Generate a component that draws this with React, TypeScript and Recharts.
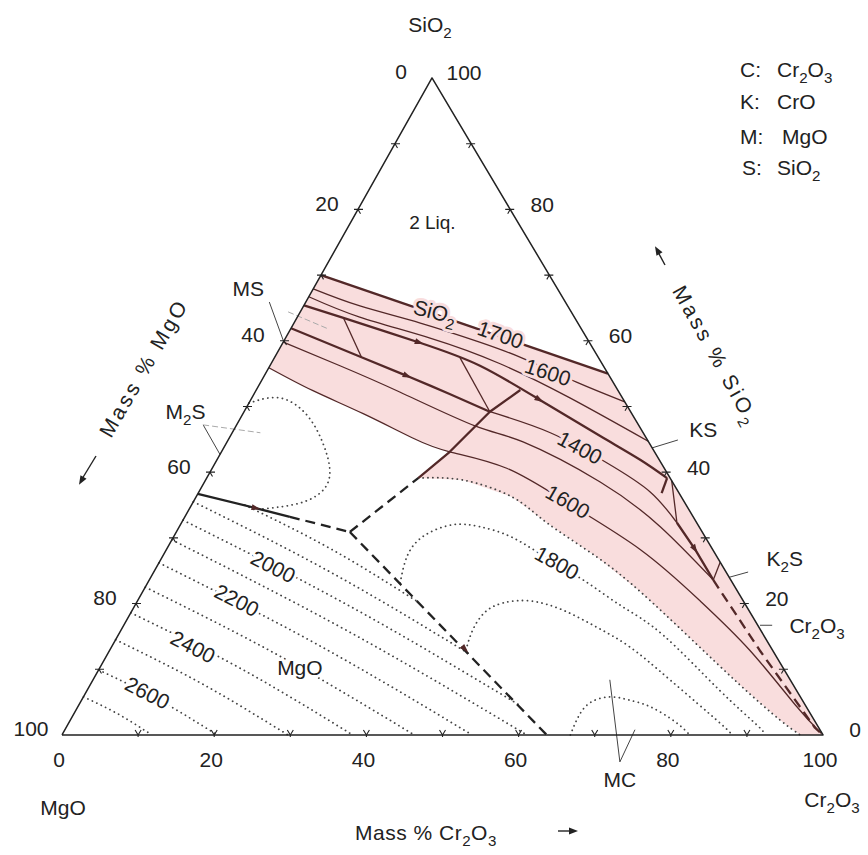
import React from 'react';
import { ScatterChart, Scatter, XAxis, YAxis } from 'recharts';

// a composition is [mass % Cr2O3, mass % SiO2]; MgO is the rest
type Comp = [number, number];

const W = 868;
const H = 855;
const FONT = '"Liberation Sans", Arial, Helvetica, sans-serif';
const INK = '#222';
const BROWN = '#532828';
const PINK = '#f9dddd';

// ternary -> cartesian, the SiO2 apex sits at 48.6 % of the base
const APEX = 0.4862;
const toXY = ([c, s]: Comp) => ({ x: c + s * APEX, y: s });

// ---------------- data ----------------
const triangle: Comp[] = [[0, 0], [100, 0], [0, 100], [0, 0]];

// two-liquid boundary (1700)
const gapLine: Comp[] = [[0, 70], [45, 55]];

// lower edge of the shaded liquid field, dotted
const pinkEdge: Comp[] = [
  [27.8, 39.1], [33.8, 38.8], [41.6, 36.2], [48, 32.3], [57.1, 27.1],
  [65.4, 21.8], [75.3, 14.8], [85.4, 7.6], [93.2, 2.3], [97, 0],
];

// isotherms in the liquid field
const iso1600a: Comp[] = [[0, 67.9], [7.4, 65.3], [16.6, 62.7], [25.8, 59.8], [32.5, 57.4], [41.5, 53.7], [49.3, 50.7]];
const iso1500a: Comp[] = [[0, 66.7], [8.2, 63.6], [19, 60.4], [30.1, 56.5], [41.8, 51.3], [55.3, 44.7]];
const iso1500b: Comp[] = [[0, 59.8], [9.2, 56.2], [19, 52.2], [31.5, 47], [38.9, 44.6], [52, 38.5], [63.2, 31.7], [74.1, 23.6]];
const iso1400: Comp[] = [[32.3, 49.2], [41.8, 46], [51.5, 41.4], [59.3, 37], [65.1, 32.3]];
const iso1600b: Comp[] = [
  [0, 55.9], [7.5, 52.4], [15.8, 48.9], [24.1, 45.2], [30, 43.1], [38.7, 40.6],
  [49.3, 35.3], [62.3, 28.2], [73.8, 20.5], [84.1, 12.9], [94.1, 4.6], [99.7, 0.2],
];

// univariant boundaries
const bndSiO2: Comp[] = [[0, 65.4], [6.1, 63.5], [18, 59.7], [27.6, 56.2], [38, 51], [48.6, 45.5], [55.6, 41.9], [60.5, 39.1]];
const bndMS: Comp[] = [[0, 61.9], [11.4, 57.5], [18.9, 54.6], [25.7, 51.9], [32.3, 49.2]];
const link1: Comp[] = [[6.1, 63.5], [11.4, 57.5]];
const link2: Comp[] = [[24.4, 57.4], [32.3, 49.2]];
const bndRise: Comp[] = [[27.8, 39.1], [30, 43.1], [32.3, 49.2], [34.7, 52.5]];
const bndKS: Comp[] = [[60.5, 39.1], [60.9, 36.8]];
const bndKSthin: Comp[] = [[61.3, 38.7], [65.1, 32.3]];
const bndK2S: Comp[] = [[65.1, 32.3], [69.5, 28.2], [74.1, 23.6]];
const bndK2Sedge: Comp[] = [[74.1, 23.6], [73.7, 26.3]];
const bndCr: Comp[] = [[74.1, 23.6], [85.4, 12.9], [98.4, 1.1], [100, 0]];
const bndMgO: Comp[] = [[0, 36.7], [8.8, 34.5], [13.8, 33.2]];
const bndMgOdash: Comp[] = [[13.8, 33.2], [22.8, 30.9]];
const bndUpDash: Comp[] = [[22.8, 30.9], [27.8, 39.1]];
const bndDownDash: Comp[] = [[22.8, 30.9], [63.7, 0]];

// dotted isotherms outside the shaded field
const iso1800: Comp[] = [
  [33.2, 23.1], [32.1, 27.4], [32.9, 30.4], [35.8, 32], [39.5, 31.7], [44.7, 30], [51.2, 26.6],
  [57, 23.6], [64.2, 19.5], [71.6, 15.2], [83.1, 6.8], [90.6, 1.5], [92.4, 0],
];
const iso1900: Comp[] = [
  [46.8, 12.9], [46.2, 16], [46.5, 18.7], [48.2, 20.1], [51.6, 20.4], [56.6, 19],
  [62.3, 16.4], [68.1, 13.4], [75.8, 8.4], [85.6, 1.8], [88, 0],
];
const isoMC: Comp[] = [[66.8, 0], [66.5, 2.7], [67, 4.9], [69.2, 5.8], [72, 5.3], [75.2, 4.3], [79.6, 2], [82.5, 0]];
const isoM2S: Comp[] = [[0, 50.5], [3.7, 51.3], [8.5, 48.7], [12.7, 44.4], [15.6, 40.3], [16.2, 37.3], [14.1, 35.3], [9.6, 34.4]];
const isoMgO: Comp[][] = [
  [[7, 35], [21.8, 28.2], [37.2, 20.1]],
  [[0, 35.5], [23.4, 24.7], [47.6, 12.3]],
  [[0, 32.7], [28.5, 19.5], [57.8, 4.6]],
  [[0, 29.7], [30.1, 15.7], [61.1, 0]],
  [[0, 26.2], [26.6, 13.9], [53.9, 0]],
  [[0, 22.5], [22.8, 12], [46.3, 0]],
  [[0, 18.6], [18.8, 10], [38.2, 0]],
  [[0, 14.5], [14.6, 7.8], [29.7, 0]],
  [[0, 9.9], [10, 5.4], [20.4, 0]],
  [[0, 5.8], [5.8, 3.2], [11.8, 0]],
];

// leader lines of the compound labels
const leaders: Comp[][] = [
  [[-4.8, 65.9], [0, 59.9]],
  [[-4.4, 47.2], [0, 42.7]],
  [[59.1, 44.9], [56.3, 43.7]],
  [[78.1, 24.8], [76, 24]],
  [[83.6, 16.7], [85.2, 16.7]],
  [[67.9, 8.4], [75.3, -4.1]],
  [[74.9, 0.8], [75.3, -4.1]],
];
const faintLeaders: Comp[][] = [
  [[-1.6, 64.4], [4.7, 61.9]],
  [[-4.4, 47.2], [3.7, 46]],
];

const arrows: { at: Comp; rot: number }[] = [
  { at: [8.8, 34.5], rot: 13 },
  { at: [18, 59.7], rot: 19 },
  { at: [38, 51], rot: 30 },
  { at: [18.9, 54.6], rot: 23 },
  { at: [46.7, 13], rot: 46 },
  { at: [69.5, 28.2], rot: 57 },
];

const labels: { at: Comp; text: string; rot?: number; halo?: string; size?: number }[] = [
  { at: [10.7, 78.1], text: '2 Liq.', size: 19 },
  { at: [17.7, 64.4], text: 'SiO2', rot: 14, halo: PINK },
  { at: [28, 60.9], text: '1700', rot: 19, halo: PINK },
  { at: [37, 55.2], text: '1600', rot: 18, halo: PINK },
  { at: [46.8, 43.7], text: '1400', rot: 28, halo: PINK },
  { at: [49.2, 35.5], text: '1600', rot: 30, halo: PINK },
  { at: [52.3, 26.2], text: '1800', rot: 29, halo: '#fff' },
  { at: [15.3, 25.6], text: '2000', rot: 27, halo: '#fff' },
  { at: [13, 20.5], text: '2200', rot: 27, halo: '#fff' },
  { at: [10.7, 13.4], text: '2400', rot: 27, halo: '#fff' },
  { at: [8.1, 6.4], text: '2600', rot: 27, halo: '#fff' },
  { at: [26.3, 10.2], text: 'MgO', halo: '#fff' },
  { at: [-8.6, 68], text: 'MS' },
  { at: [-7.7, 49.2], text: 'M2S' },
  { at: [61.7, 46.4], text: 'KS' },
  { at: [81.9, 26.9], text: 'K2S' },
  { at: [91.1, 16.7], text: 'Cr2O3' },
  { at: [76.6, -6.8], text: 'MC' },
];

const minorTicks = [10, 20, 30, 40, 50, 60, 70, 80, 90];
const tickLabels = [0, 20, 40, 60, 80, 100];

// ---------------- helpers ----------------
function chem(t: string, size: number) {
  const parts = t.match(/\d+|\D+/g) ?? [];
  const sh = size * 0.3;
  let low = false;
  return parts.map((p, i) => {
    const sub = /^\d/.test(p) && i > 0 && /[A-Za-z)]$/.test(parts[i - 1]);
    if (sub) {
      low = true;
      return <tspan key={i} dy={sh} fontSize={size * 0.72}>{p}</tspan>;
    }
    if (low) {
      low = false;
      return <tspan key={i} dy={-sh}>{p}</tspan>;
    }
    return <tspan key={i}>{p}</tspan>;
  });
}

const noDot = () => <g />;

type Style = { w?: number; color?: string; dash?: string; curve?: 'linear' | 'natural'; cap?: 'round' | 'butt' };
const thin: Style = { w: 1.3, color: BROWN };
const thick: Style = { w: 2.3, color: BROWN };
const dashed: Style = { w: 2.3, color: INK, dash: '10 6', curve: 'linear' };
const dotted: Style = { w: 1.8, color: '#444', dash: '0.1 4.8', cap: 'round' };

function path(key: string, pts: Comp[], st: Style = {}) {
  return (
    <Scatter
      key={key}
      data={pts.map(toXY)}
      shape={noDot}
      isAnimationActive={false}
      line={{
        stroke: st.color ?? INK,
        strokeWidth: st.w ?? 1.3,
        strokeDasharray: st.dash,
        strokeLinecap: st.cap ?? 'butt',
        strokeLinejoin: 'round',
        fill: 'none',
      }}
      lineJointType={st.curve ?? 'natural'}
    />
  );
}

const TextMark = (p: any) => {
  const { cx, cy, payload: d } = p;
  const size = d.size ?? 21;
  return (
    <text
      x={cx}
      y={cy + size * 0.35}
      textAnchor="middle"
      fontSize={size}
      fontFamily={FONT}
      fill={INK}
      transform={d.rot ? `rotate(${d.rot} ${cx} ${cy})` : undefined}
      stroke={d.halo ?? 'none'}
      strokeWidth={d.halo ? 6 : 0}
      strokeLinejoin="round"
      paintOrder="stroke"
    >
      {chem(d.text, size)}
    </text>
  );
};

const TickMark = (p: any) => {
  const { cx, cy, payload } = p;
  let d = '';
  if (payload.edge === 'b') d = `M${cx - 3},${cy - 5} L${cx},${cy} L${cx + 3},${cy - 5} M${cx},${cy} L${cx},${cy + 2}`;
  if (payload.edge === 'l') d = `M${cx - 4},${cy} L${cx + 5},${cy} M${cx},${cy} L${cx + 2.5},${cy + 4.3}`;
  if (payload.edge === 'r') d = `M${cx - 5},${cy} L${cx + 4},${cy} M${cx},${cy} L${cx - 2.5},${cy + 4.3}`;
  return <path d={d} stroke={INK} strokeWidth={1.1} fill="none" />;
};

const TickLabel = (p: any) => {
  const { cx, cy, payload } = p;
  const off: Record<string, [number, number]> = { l: [-31, -6], r: [32, -5], b: [-3, 25] };
  const [dx, dy] = off[payload.edge];
  return (
    <text x={cx + dx} y={cy + dy + 7.5} textAnchor="middle" fontSize={21} fontFamily={FONT} fill={INK}>
      {payload.v}
    </text>
  );
};

const ArrowMark = (p: any) => {
  const { cx, cy, payload } = p;
  return (
    <polygon
      points={`${cx - 5},${cy - 3} ${cx + 4},${cy} ${cx - 5},${cy + 3}`}
      fill={BROWN}
      transform={`rotate(${payload.rot} ${cx} ${cy})`}
    />
  );
};

const pinkRegion: Comp[] = [
  gapLine[0],
  gapLine[1],
  [100, 0],
  ...[...pinkEdge].reverse(),
  ...iso1600b.slice(0, 5).reverse(),
];

const tickPoints = [
  ...minorTicks.map((v) => ({ ...toXY([v, 0]), edge: 'b' })),
  ...minorTicks.map((v) => ({ ...toXY([0, v]), edge: 'l' })),
  ...minorTicks.map((v) => ({ ...toXY([100 - v, v]), edge: 'r' })),
];
const tickText = [
  ...tickLabels.map((v) => ({ ...toXY([v, 0]), edge: 'b', v })),
  ...tickLabels.map((v) => ({ ...toXY([0, 100 - v]), edge: 'l', v })),
  ...tickLabels.map((v) => ({ ...toXY([100 - v, v]), edge: 'r', v })),
];

const Head = ({ x, y, rot }: { x: number; y: number; rot: number }) => (
  <polygon points={`${x - 7},${y - 3.5} ${x + 2},${y} ${x - 7},${y + 3.5}`} fill={INK} transform={`rotate(${rot} ${x} ${y})`} />
);

export default function App() {
  return (
    <div style={{ position: 'absolute', left: 0, top: 0, width: W, height: H, background: '#fff' }}>
      <ScatterChart width={W} height={H} margin={{ top: 0, right: 0, bottom: 0, left: 0 }}>
        <XAxis type="number" dataKey="x" domain={[-8.147, 105.91]} allowDataOverflow hide />
        <YAxis type="number" dataKey="y" domain={[-18.27, 111.87]} allowDataOverflow hide />

        <Scatter
          data={pinkRegion.map(toXY)}
          shape={noDot}
          isAnimationActive={false}
          line={{ fill: PINK, stroke: 'none' }}
          lineJointType="linear"
        />

        {isoMgO.map((l, i) => path(`mgo${i}`, l, dotted))}
        {path('pinkEdge', pinkEdge, dotted)}
        {path('i1800', iso1800, dotted)}
        {path('i1900', iso1900, dotted)}
        {path('iMC', isoMC, dotted)}
        {path('iM2S', isoM2S, dotted)}

        {path('i1600a', iso1600a, thin)}
        {path('i1500a', iso1500a, thin)}
        {path('i1500b', iso1500b, thin)}
        {path('i1400', iso1400, thin)}
        {path('i1600b', iso1600b, thin)}
        {path('link1', link1, { ...thin, curve: 'linear' })}
        {path('link2', link2, { ...thin, curve: 'linear' })}
        {path('bKSthin', bndKSthin, { ...thin, curve: 'linear' })}
        {path('bK2Sedge', bndK2Sedge, { ...thin, curve: 'linear' })}

        {path('bSiO2', bndSiO2, thick)}
        {path('bMS', bndMS, thick)}
        {path('bRise', bndRise, { ...thick, curve: 'linear' })}
        {path('bKS', bndKS, { ...thick, curve: 'linear' })}
        {path('bK2S', bndK2S, { ...thick, curve: 'linear' })}
        {path('bCr', bndCr, { ...dashed, color: BROWN })}
        {path('bMgO', bndMgO, { ...thick, color: INK, curve: 'linear' })}
        {path('bMgOd', bndMgOdash, dashed)}
        {path('bUp', bndUpDash, dashed)}
        {path('bDown', bndDownDash, dashed)}
        {path('gap', gapLine, { ...thick, w: 2.4, curve: 'linear' })}

        {leaders.map((l, i) => path(`ld${i}`, l, { w: 1, color: '#444', curve: 'linear' }))}
        {faintLeaders.map((l, i) => path(`fl${i}`, l, { w: 1, color: '#aaa', dash: '6 3', curve: 'linear' }))}

        {path('frame', triangle, { w: 1.5, color: INK, curve: 'linear' })}

        <Scatter data={tickPoints} shape={TickMark} isAnimationActive={false} />
        <Scatter data={arrows.map((a) => ({ ...toXY(a.at), rot: a.rot }))} shape={ArrowMark} isAnimationActive={false} />
        <Scatter data={labels.map((l) => ({ ...l, ...toXY(l.at) }))} shape={TextMark} isAnimationActive={false} />
        <Scatter data={tickText} shape={TickLabel} isAnimationActive={false} />
      </ScatterChart>

      <svg
        width={W}
        height={H}
        style={{ position: 'absolute', left: 0, top: 0, pointerEvents: 'none' }}
        fontFamily={FONT}
        fill={INK}
        fontSize={21}
      >
        <text x={430} y={32} textAnchor="middle">{chem('SiO2', 21)}</text>

        <text x={740} y={77}>C:</text>
        <text x={777} y={77}>{chem('Cr2O3', 21)}</text>
        <text x={740} y={109}>K:</text>
        <text x={777} y={109}>CrO</text>
        <text x={740} y={144}>M:</text>
        <text x={782} y={144}>MgO</text>
        <text x={742} y={175}>S:</text>
        <text x={777} y={175}>{chem('SiO2', 21)}</text>

        <text transform="translate(144,368) rotate(-60)" textAnchor="middle" letterSpacing={3} y={7}>Mass % MgO</text>
        <line x1={96} y1={456} x2={82} y2={479} stroke={INK} strokeWidth={1.4} />
        <Head x={80} y={483} rot={120} />

        <text transform="translate(716,356) rotate(61)" textAnchor="middle" letterSpacing={3} y={7}>{chem('Mass % SiO2', 21)}</text>
        <line x1={665} y1={265} x2={658} y2={252} stroke={INK} strokeWidth={1.4} />
        <Head x={656} y={248} rot={-120} />

        <text x={355} y={840} letterSpacing={0.5}>{chem('Mass % Cr2O3', 21)}</text>
        <line x1={558} y1={831} x2={572} y2={831} stroke={INK} strokeWidth={1.4} />
        <Head x={576} y={831} rot={0} />

        <text x={63} y={815} textAnchor="middle">MgO</text>
        <text x={832} y={807} textAnchor="middle">{chem('Cr2O3', 21)}</text>
      </svg>
    </div>
  );
}
